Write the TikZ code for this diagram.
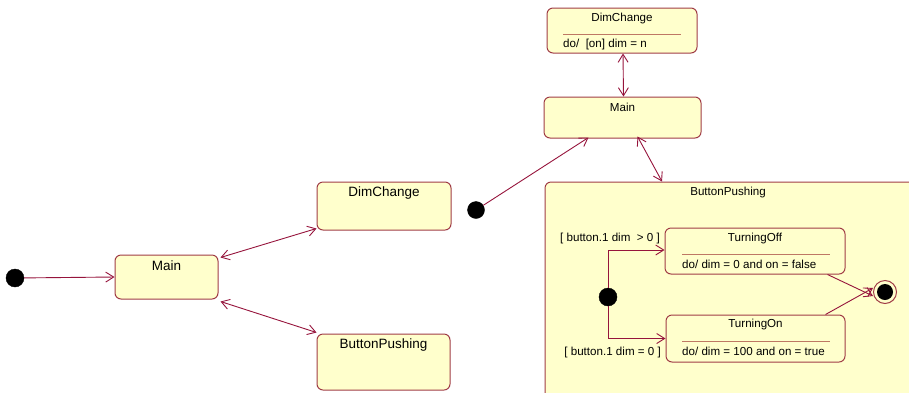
\documentclass[tikz,border=0pt]{standalone}
\usepackage{fontspec}
\setmainfont{Liberation Sans}
\usetikzlibrary{arrows.meta}
\definecolor{statefill}{RGB}{255,255,204}
\definecolor{stateline}{RGB}{160,60,70}
\definecolor{sepline}{RGB}{190,120,100}
\definecolor{flow}{RGB}{150,20,60}
\tikzset{
  statebox/.style={draw=stateline, fill=statefill, line width=1pt,
    rounded corners=6pt, inner sep=0pt},
  bigfont/.style={font=\fontsize{13.5}{15}\selectfont, inner sep=0pt},
  smallfont/.style={font=\fontsize{11.6}{13}\selectfont, inner sep=0pt},
  startdot/.style={circle, fill=black, draw=black, inner sep=0pt},
  flowarrow/.style={draw=flow, line width=0.9pt,
    -{Straight Barb[length=8pt,width=10pt]}},
  flowboth/.style={draw=flow, line width=0.9pt,
    {Straight Barb[length=8pt,width=10pt]}-{Straight Barb[length=8pt,width=10pt]}},
  separator/.style={draw=sepline, line width=1pt},
}
\begin{document}
\begin{tikzpicture}[x=1pt,y=-1pt]
\useasboundingbox (0,0) rectangle (909,392);
\clip (0,0) rectangle (909,392);

% ---- top-level machine (left) ----
\node[startdot, minimum size=18pt] (linit) at (15,278) {};
\node[statebox, minimum width=103pt, minimum height=44pt] (lmain) at (166.5,277) {};
\node[bigfont] (lmaint) at (166.5,266) {Main};
\node[statebox, minimum width=134pt, minimum height=48pt] (ldim) at (384,206) {};
\node[bigfont] (ldimt) at (384,193) {DimChange};
\node[statebox, minimum width=133pt, minimum height=56pt] (lbp) at (383.5,362) {};
\node[bigfont] (lbpt) at (383.5,345) {ButtonPushing};

\draw[flowarrow] (linit) -- (lmain.west);
\draw[flowboth] ([xshift=2pt,yshift=-3pt]lmain.north east) -- ([yshift=2pt]ldim.south west);
\draw[flowboth] ([xshift=2pt,yshift=-2pt]lmain.south east) -- ([yshift=1pt]lbp.north west);

% ---- refined machine (right) ----
\node[statebox, minimum width=150pt, minimum height=45pt] (rdim) at (622,30.5) {};
\node[smallfont] (rdimt) at (622,18) {DimChange};
\draw[separator] (563,34) -- (681,34);
\node[smallfont, anchor=west] (rdimdo) at (563,44) {do/\ \ [on] dim = n};

\node[statebox, minimum width=157pt, minimum height=41pt] (rmain) at (622.5,117.5) {};
\node[smallfont] (rmaint) at (622.5,107) {Main};

\node[startdot, minimum size=17pt] (rinit) at (476,210) {};

\node[statebox, minimum width=385pt, minimum height=228pt] (rbp) at (737.5,296) {};
\node[smallfont] (rbpt) at (728,192) {ButtonPushing};

\draw[flowboth] ([xshift=1pt]rdim.south) -- ([xshift=1pt]rmain.north);
\draw[flowarrow] (rinit) -- ([xshift=-34pt,yshift=1pt]rmain.south);
\draw[flowboth] ([xshift=15pt,yshift=2pt]rmain.south) -- ([xshift=-75.5pt]rbp.north);

% substates of ButtonPushing
\node[statebox, minimum width=180pt, minimum height=46pt] (toff) at (755,251) {};
\node[smallfont] (tofft) at (755,238) {TurningOff};
\draw[separator] (682,254) -- (830,254);
\node[smallfont, anchor=west] (toffdo) at (682,264.5) {do/ dim = 0 and on = false};

\node[statebox, minimum width=179pt, minimum height=47pt] (ton) at (755.5,338.5) {};
\node[smallfont] (tont) at (755.5,324) {TurningOn};
\draw[separator] (682,341) -- (830,341);
\node[smallfont, anchor=west] (tondo) at (682,351) {do/ dim = 100 and on = true};

\node[startdot, minimum size=18pt] (binit) at (608,297) {};
\node[smallfont, anchor=east] (guardoff) at (660,238) {[ button.1 dim\ \ > 0 ]};
\node[smallfont, anchor=east] (guardon) at (661,352) {[ button.1 dim = 0 ]};

\draw[flowarrow] (binit) |- ([yshift=1pt]toff.west);
\draw[flowarrow] (binit) |- (ton.west);

\node[circle, draw=stateline, fill=statefill, line width=1pt, minimum size=23pt, inner sep=0pt] (fin) at (885,292) {};
\node[circle, fill=black, minimum size=16pt, inner sep=0pt] (fincore) at (fin.center) {};

\draw[flowarrow] ([xshift=-18pt]toff.south east) -- ([yshift=-4pt]fin.west);
\draw[flowarrow] ([xshift=-20pt]ton.north east) -- ([yshift=4pt]fin.west);
\end{tikzpicture}
\end{document}
